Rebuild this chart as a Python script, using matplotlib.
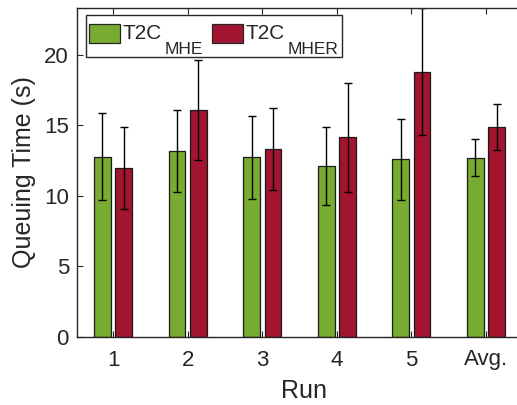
import numpy as np
import matplotlib
matplotlib.use("Agg")
import matplotlib.pyplot as plt
from matplotlib.patches import Rectangle
from matplotlib.offsetbox import (AnchoredOffsetbox, DrawingArea, HPacker,
                                  TextArea, VPacker)

plt.rcParams["font.family"] = ["Liberation Sans", "DejaVu Sans"]

# Data
runs = ["1", "2", "3", "4", "5", "Avg."]
mhe_mean = [12.76, 13.20, 12.73, 12.13, 12.58, 12.71]
mhe_err = [3.08, 2.90, 2.94, 2.77, 2.86, 1.29]
mher_mean = [12.00, 16.08, 13.30, 14.13, 18.80, 14.88]
mher_err = [2.90, 3.52, 2.90, 3.83, 4.52, 1.62]
series_base = ["T2C", "T2C"]
series_sub = ["MHE", "MHER"]

green = "#77AC30"
red = "#A2142F"
dark = "#262626"
colors = [green, red]

fig = plt.figure(figsize=(5.17, 4.05), dpi=100)
ax = fig.add_axes([77.3 / 517, 1 - 337 / 405, (530 - 77.3) / 517, (337 - 8) / 405])

x = np.arange(1, len(runs) + 1)
off = 0.143
w = 0.224
ekw = dict(ecolor="black", elinewidth=1.0, capsize=2.7, capthick=1.0)
ax.bar(x - off, mhe_mean, w, color=green, edgecolor="#1a1a1a", linewidth=0.9,
       yerr=mhe_err, error_kw=ekw, zorder=2)
ax.bar(x + off, mher_mean, w, color=red, edgecolor="#1a1a1a", linewidth=0.9,
       yerr=mher_err, error_kw=ekw, zorder=2)

ax.set_xlim(0.521, 0.521 + (530 - 77.3) / 74.6)
ax.set_ylim(0, 23.3)
ax.set_xticks(x)
ax.set_xticklabels(runs)
ax.set_yticks([0, 5, 10, 15, 20])

for s in ax.spines.values():
    s.set_color(dark)
    s.set_linewidth(1.0)
ax.tick_params(direction="in", length=4, width=0.8, colors=dark,
               labelsize=16, top=True, right=True)
ax.tick_params(axis="x", pad=9)
ax.tick_params(axis="y", pad=6)
ax.set_xlabel("Run", fontsize=18, color=dark, labelpad=6)
ax.set_ylabel("Queuing Time (s)", fontsize=18, color=dark, labelpad=6)


# Legend with real subscripts: swatch, base name, lowered smaller suffix
def vspace(h):
    return DrawingArea(0, h)


def hspace(wd):
    return DrawingArea(wd, 0)


def legend_entry(color, base, sub):
    da = DrawingArea(22.3, 13.7)
    da.add_artist(Rectangle((0, 0), 22.3, 13.7, facecolor=color,
                            edgecolor=dark, linewidth=0.9))
    swatch = VPacker(children=[da, vspace(9.6)], sep=0, pad=0)
    main = VPacker(children=[TextArea(base, textprops=dict(size=15, color=dark)),
                             vspace(10.0)], sep=0, pad=0)
    low = TextArea(sub, textprops=dict(size=12.5, color=dark))
    return HPacker(children=[swatch, main, low], sep=2.0, pad=0, align="bottom")


entries = [legend_entry(c, b, s) for c, b, s in zip(colors, series_base, series_sub)]
row = HPacker(children=[hspace(0.2), entries[0], hspace(2.5), entries[1], hspace(0.2)],
              sep=2.0, pad=0, align="bottom")
content = VPacker(children=[vspace(6.3), row], sep=0, pad=0)
box = AnchoredOffsetbox(loc="upper left", child=content, pad=0, borderpad=0,
                        frameon=True, prop=dict(size=15),
                        bbox_to_anchor=(86 / 517, 1 - 15 / 405),
                        bbox_transform=fig.transFigure)
box.patch.set_edgecolor(dark)
box.patch.set_linewidth(1.0)
box.patch.set_facecolor("white")
box.patch.set_boxstyle("square", pad=0)
ax.add_artist(box)

fig.savefig("out.png", dpi=100)
